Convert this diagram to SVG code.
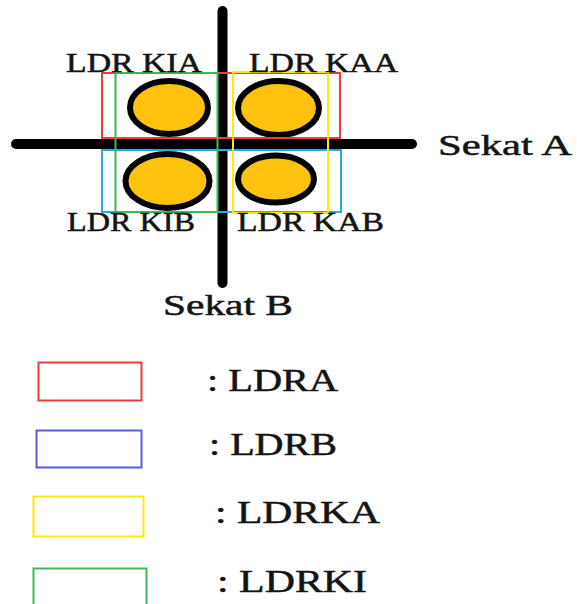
<svg xmlns="http://www.w3.org/2000/svg" width="577" height="604" viewBox="0 0 577 604">
<style>
text{font-family:"Liberation Serif","Times New Roman",serif;fill:#141414;stroke:#141414;stroke-width:0.5;}
.lbl{font-size:27px;}
.big{font-size:30px;}
.leg{font-size:31px;}
.ldr{fill:#FFC20E;stroke:#000;stroke-width:6;}
.bar{stroke:#000;stroke-width:10;stroke-linecap:round;fill:none;}
.box{fill:none;stroke-width:2;}
.red{stroke:#F03A3A;}
.blue{stroke:#2AA8E8;}
.blue2{stroke:#5A5AE0;}
.yel{stroke:#FFEA00;}
.grn{stroke:#3CB85C;}
</style>
<g id="connectors">
  <line id="sekat-b-line" class="bar" x1="222.5" y1="11" x2="222.5" y2="283"/>
  <line id="sekat-a-line" class="bar" x1="16" y1="144" x2="412" y2="144"/>
</g>
<g id="ldr-kia"><ellipse class="ldr" cx="169" cy="107.5" rx="39" ry="26.5"/></g>
<g id="ldr-kaa"><ellipse class="ldr" cx="278.5" cy="108" rx="40.5" ry="27"/></g>
<g id="ldr-kib"><ellipse class="ldr" cx="167.5" cy="181" rx="42" ry="27"/></g>
<g id="ldr-kab"><ellipse class="ldr" cx="276" cy="179" rx="38" ry="23.5"/></g>
<g id="group-ldra"><rect class="box red" x="102" y="73" width="238" height="65"/></g>
<g id="group-ldrb"><rect class="box blue" x="102" y="150" width="239" height="62"/></g>
<g id="group-ldrki"><rect class="box grn" x="115.5" y="73" width="102" height="139"/></g>
<g id="group-ldrka"><rect class="box yel" x="233" y="72" width="95" height="141"/></g>
<g id="labels">
  <text class="lbl" x="66" y="72" textLength="136" lengthAdjust="spacingAndGlyphs">LDR KIA</text>
  <text class="lbl" x="249" y="72" textLength="149" lengthAdjust="spacingAndGlyphs">LDR KAA</text>
  <text class="lbl" x="67" y="231" textLength="128" lengthAdjust="spacingAndGlyphs">LDR KIB</text>
  <text class="lbl" x="237" y="231" textLength="147" lengthAdjust="spacingAndGlyphs">LDR KAB</text>
  <text class="big" x="438" y="155" textLength="134" lengthAdjust="spacingAndGlyphs">Sekat A</text>
  <text class="big" x="163" y="315" textLength="130" lengthAdjust="spacingAndGlyphs">Sekat B</text>
</g>
<g id="legend">
  <g id="legend-ldra"><rect class="box red" x="38.5" y="362.5" width="103" height="38"/>
    <text class="leg" x="207" y="391" textLength="131" lengthAdjust="spacingAndGlyphs">: LDRA</text></g>
  <g id="legend-ldrb"><rect class="box blue2" x="36.5" y="430.5" width="105" height="37"/>
    <text class="leg" x="209" y="455" textLength="128" lengthAdjust="spacingAndGlyphs">: LDRB</text></g>
  <g id="legend-ldrka"><rect class="box yel" x="33.5" y="496.5" width="110" height="40"/>
    <text class="leg" x="215" y="523" textLength="165" lengthAdjust="spacingAndGlyphs">: LDRKA</text></g>
  <g id="legend-ldrki"><rect class="box grn" x="33.5" y="568.5" width="113" height="40"/>
    <text class="leg" x="217" y="592" textLength="150" lengthAdjust="spacingAndGlyphs">: LDRKI</text></g>
</g>
</svg>
